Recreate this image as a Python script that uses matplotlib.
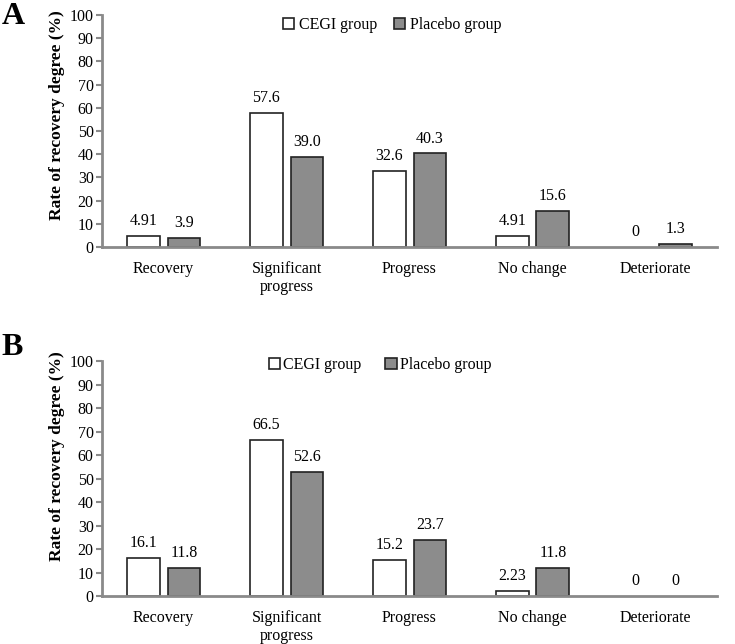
import matplotlib
matplotlib.use("Agg")
import matplotlib.pyplot as plt
import numpy as np

categories = ["Recovery", "Significant\nprogress", "Progress", "No change", "Deteriorate"]
cegi_A = [4.91, 57.6, 32.6, 4.91, 0]
placebo_A = [3.9, 39.0, 40.3, 15.6, 1.3]
labels_cegi_A = ["4.91", "57.6", "32.6", "4.91", "0"]
labels_placebo_A = ["3.9", "39.0", "40.3", "15.6", "1.3"]

cegi_B = [16.1, 66.5, 15.2, 2.23, 0]
placebo_B = [11.8, 52.6, 23.7, 11.8, 0]
labels_cegi_B = ["16.1", "66.5", "15.2", "2.23", "0"]
labels_placebo_B = ["11.8", "52.6", "23.7", "11.8", "0"]

series_names = ["CEGI group", "Placebo group"]
yticks = list(range(0, 101, 10))

plt.rcParams['font.family'] = ['Liberation Serif', 'DejaVu Serif']

fig = plt.figure(figsize=(7.35, 6.44), dpi=100)
spine_col = "#8a8a8a"
grey_fill = "#8c8c8c"
edge = "#222222"

def panel(rect, cegi, placebo, lc, lp, letter, letter_y, leg_xy, leg_pad, leg_cs, lab_y):
    ax = fig.add_axes(rect)
    x = np.arange(len(categories))
    w = 0.265
    off = 0.165
    b1 = ax.bar(x - off, cegi, w, color="white", edgecolor=edge, linewidth=1.2, label=series_names[0])
    b2 = ax.bar(x + off, placebo, w, color=grey_fill, edgecolor=edge, linewidth=1.2, label=series_names[1])
    for bars, vals in ((b1, cegi), (b2, placebo)):
        for r, v in zip(bars, vals):
            if v == 0:
                r.set_edgecolor("none")
    for xi, v, s in zip(x - off, cegi, lc):
        ax.text(xi, v + 3, s, ha="center", va="bottom", fontsize=11.5)
    for xi, v, s in zip(x + off, placebo, lp):
        ax.text(xi, v + 3, s, ha="center", va="bottom", fontsize=11.5)
    ax.set_xlim(-0.5, 4.5)
    ax.set_ylim(0, 100)
    ax.set_yticks(yticks)
    ax.set_xticks(x)
    ax.set_xticklabels(categories, fontsize=11.5)
    ax.tick_params(axis="x", length=0, pad=10)
    ax.tick_params(axis="y", length=4, width=1.5, color=spine_col, labelsize=11.5, pad=2)
    for s in ["top", "right"]:
        ax.spines[s].set_visible(False)
    for s in ["left", "bottom"]:
        ax.spines[s].set_color(spine_col)
        ax.spines[s].set_linewidth(2)
    ax.set_ylabel("Rate of recovery degree (%)", fontsize=12.5, fontweight="bold")
    ax.yaxis.set_label_coords(-0.060, lab_y)
    ax.legend(loc="center", bbox_to_anchor=leg_xy, ncol=2, frameon=False,
              fontsize=11.5, handlelength=0.7, handleheight=0.7, handletextpad=leg_pad,
              columnspacing=leg_cs, borderpad=0, borderaxespad=0)
    fig.text(0.002, letter_y, letter, fontsize=23, fontweight="bold",
             ha="left", va="center")
    return ax

panel([0.1388, 0.6165, 0.8367, 0.3602], cegi_A, placebo_A, labels_cegi_A, labels_placebo_A,
      "A", 0.975, (0.472, 0.957), 0.35, 1.0, 0.569)
panel([0.1388, 0.0745, 0.8367, 0.3649], cegi_B, placebo_B, labels_cegi_B, labels_placebo_B,
      "B", 0.461, (0.452, 0.983), 0.2, 1.5, 0.596)

fig.savefig("out.png", dpi=100)
